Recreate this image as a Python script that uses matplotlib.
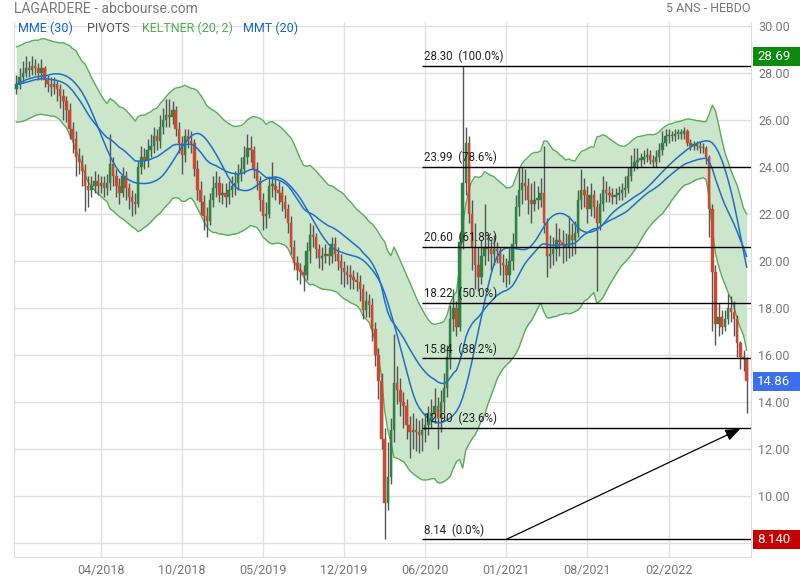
import matplotlib
matplotlib.use('Agg')
import matplotlib.pyplot as plt
import matplotlib.transforms as mtransforms
from matplotlib.patches import Rectangle
import numpy as np
import pandas as pd

plt.rcParams['font.family'] = ['Roboto', 'DejaVu Sans']

# weekly candles (5 years, weekly)
closes = [
    27.5, 27.8, 28.0, 28.2, 28.1, 28.3, 28.2, 28.0, 28.2, 27.7,
    27.5, 27.4, 27.5, 27.3, 27.0, 26.8, 26.4, 25.6, 25.2, 24.4,
    24.2, 23.8, 23.2, 23.0, 23.2, 23.4, 23.2, 23.3, 23.1, 23.3,
    24.1, 23.6, 23.2, 22.9, 23.6, 23.1, 22.7, 22.5, 22.4, 24.0,
    24.4, 24.3, 24.7, 24.9, 25.3, 25.1, 25.7, 26.0, 26.2, 26.1,
    26.4, 25.6, 25.0, 24.5, 25.3, 25.1, 25.0, 23.9, 23.0, 22.5,
    21.9, 21.7, 22.6, 23.1, 23.3, 22.8, 22.9, 22.7, 23.0, 23.2,
    23.3, 23.7, 23.9, 24.4, 24.8, 24.7, 23.9, 23.4, 22.6, 21.9,
    22.0, 23.2, 23.2, 23.0, 22.9, 22.5, 22.2, 21.6, 20.6, 19.9,
    19.6, 19.5, 19.4, 20.4, 21.1, 21.0, 20.5, 20.1, 20.2, 20.3,
    20.2, 20.7, 20.3, 20.0, 19.7, 19.5, 19.4, 19.3, 19.2, 19.1,
    18.8, 17.9, 18.3, 18.1, 17.1, 16.0, 14.9, 12.4, 9.7, 10.8,
    12.8, 14.8, 14.5, 14.0, 13.8, 13.0, 12.7, 12.8, 12.7, 12.6,
    12.8, 13.0, 13.2, 13.5, 13.8, 13.3, 14.0, 14.6, 15.9, 17.5,
    18.0, 17.2, 20.8, 23.3, 25.0, 22.0, 20.6, 19.8, 19.3, 20.2,
    20.6, 20.5, 20.3, 20.5, 20.4, 19.9, 19.8, 19.4, 20.0, 20.7,
    22.3, 23.0, 23.3, 23.2, 22.6, 22.4, 22.6, 22.6, 22.9, 21.6,
    20.2, 20.3, 20.5, 20.9, 20.8, 20.7, 20.6, 21.1, 20.9, 21.2,
    22.6, 23.0, 22.8, 22.2, 22.8, 22.3, 21.6, 22.4, 23.0, 22.9,
    22.8, 22.7, 22.8, 22.9, 23.0, 23.1, 23.6, 24.0, 24.2, 24.3,
    24.3, 24.4, 24.5, 24.3, 24.2, 24.4, 24.7, 25.0, 25.3, 25.3,
    25.3, 25.4, 25.4, 25.4, 25.5, 25.0, 24.9, 24.9, 24.9, 24.8,
    24.8, 24.4, 22.2, 19.5, 17.3, 17.6, 17.2, 17.5, 18.0, 17.8,
    17.5, 16.5, 15.9, 15.8, 14.86,
]
opens = [
    27.3, 27.5, 27.8, 28.0, 28.2, 28.1, 28.3, 28.2, 28.0, 28.2,
    27.7, 27.5, 27.4, 27.5, 27.3, 27.0, 26.8, 26.4, 25.6, 25.2,
    24.4, 24.2, 23.8, 23.2, 23.0, 23.2, 23.4, 23.2, 23.3, 23.1,
    23.3, 24.1, 23.6, 23.2, 22.9, 23.6, 23.1, 22.7, 22.5, 22.4,
    24.0, 24.4, 24.3, 24.7, 24.9, 25.3, 25.1, 25.7, 26.0, 26.2,
    26.1, 26.4, 25.6, 25.0, 24.5, 25.3, 25.1, 25.0, 23.9, 23.0,
    22.5, 21.9, 21.7, 22.6, 23.1, 23.3, 22.8, 22.9, 22.7, 23.0,
    23.2, 23.3, 23.7, 23.9, 24.4, 24.8, 24.7, 23.9, 23.4, 22.6,
    21.9, 22.0, 23.2, 23.2, 23.0, 22.9, 22.5, 22.2, 21.6, 20.6,
    19.9, 19.6, 19.5, 19.4, 20.4, 21.1, 21.0, 20.5, 20.1, 20.2,
    20.3, 20.2, 20.7, 20.3, 20.0, 19.7, 19.5, 19.4, 19.3, 19.2,
    19.1, 18.8, 17.9, 18.3, 18.1, 17.1, 16.0, 14.9, 12.4, 9.7,
    10.8, 12.8, 14.8, 14.5, 14.0, 13.8, 13.0, 12.7, 12.8, 12.7,
    12.6, 12.8, 13.0, 13.2, 13.5, 13.8, 13.3, 14.0, 14.6, 15.9,
    17.5, 18.0, 17.2, 20.8, 23.3, 25.0, 22.0, 20.6, 19.8, 19.3,
    20.2, 20.6, 20.5, 20.3, 20.5, 20.4, 19.9, 19.8, 19.4, 20.0,
    20.7, 22.3, 23.0, 23.3, 23.2, 22.6, 22.4, 22.6, 22.6, 22.9,
    21.6, 20.2, 20.3, 20.5, 20.9, 20.8, 20.7, 20.6, 21.1, 20.9,
    21.2, 22.6, 23.0, 22.8, 22.2, 22.8, 22.3, 21.6, 22.4, 23.0,
    22.9, 22.8, 22.7, 22.8, 22.9, 23.0, 23.1, 23.6, 24.0, 24.2,
    24.3, 24.3, 24.4, 24.5, 24.3, 24.2, 24.4, 24.7, 25.0, 25.3,
    25.3, 25.3, 25.4, 25.4, 25.4, 25.5, 25.0, 24.9, 24.9, 24.9,
    24.8, 24.8, 24.4, 22.2, 19.5, 17.3, 17.6, 17.2, 17.5, 18.0,
    17.8, 17.5, 16.5, 15.9, 15.8,
]
highs = [
    27.9, 28.2, 28.5, 28.7, 28.5, 28.7, 28.6, 28.4, 28.6, 28.3,
    27.9, 27.8, 27.8, 27.7, 27.5, 27.3, 27.0, 26.7, 25.9, 25.5,
    24.8, 24.5, 24.1, 23.6, 23.6, 23.8, 23.7, 23.6, 23.6, 23.7,
    25.4, 24.4, 23.9, 23.5, 24.0, 23.8, 23.3, 23.0, 22.9, 24.3,
    24.9, 24.8, 25.2, 25.4, 25.7, 25.6, 26.2, 26.5, 26.9, 26.9,
    26.8, 26.6, 25.9, 25.3, 25.6, 25.6, 25.5, 25.2, 24.3, 23.4,
    22.8, 22.3, 22.9, 23.6, 23.8, 23.6, 23.3, 23.3, 23.4, 23.6,
    23.8, 24.1, 24.4, 24.9, 25.4, 25.3, 24.9, 24.2, 23.6, 22.9,
    22.5, 23.6, 24.2, 23.6, 23.4, 23.2, 22.8, 22.4, 21.9, 20.9,
    20.2, 19.9, 19.8, 20.8, 21.6, 21.5, 21.2, 20.7, 20.6, 20.7,
    20.6, 21.0, 21.0, 20.6, 20.3, 20.0, 19.8, 19.8, 19.6, 19.5,
    19.4, 19.0, 18.7, 18.6, 18.4, 17.4, 16.3, 15.2, 12.9, 12.3,
    13.3, 16.9, 15.5, 15.0, 14.4, 14.1, 13.4, 13.5, 13.3, 13.2,
    13.3, 13.5, 13.8, 14.1, 14.6, 14.2, 14.5, 15.2, 16.4, 18.1,
    18.8, 18.3, 21.2, 28.3, 25.7, 25.3, 22.6, 21.6, 20.6, 20.9,
    22.4, 21.2, 20.9, 21.1, 20.8, 20.6, 20.3, 20.1, 20.6, 21.2,
    22.8, 24.0, 24.0, 23.9, 23.5, 23.3, 23.4, 23.2, 23.5, 24.9,
    21.8, 21.1, 21.0, 21.6, 21.4, 21.3, 21.2, 21.9, 21.6, 21.7,
    23.0, 23.9, 23.5, 23.2, 23.3, 23.0, 22.6, 22.9, 23.6, 23.4,
    23.2, 23.1, 23.1, 23.2, 23.3, 23.6, 24.0, 24.5, 24.8, 24.8,
    24.6, 24.7, 24.8, 24.7, 24.5, 24.7, 25.0, 25.5, 25.6, 25.6,
    25.5, 25.6, 25.6, 25.6, 25.7, 25.6, 25.2, 25.1, 25.1, 25.1,
    25.0, 24.9, 24.5, 22.4, 19.8, 18.2, 17.9, 17.9, 18.6, 18.5,
    18.3, 17.7, 16.6, 16.2, 15.9,
]
lows = [
    27.1, 27.3, 27.6, 27.8, 27.8, 27.9, 27.9, 27.7, 27.7, 27.4,
    27.2, 27.0, 27.1, 26.8, 26.5, 26.0, 25.9, 25.2, 24.6, 23.6,
    23.7, 23.2, 22.1, 22.3, 22.7, 22.9, 22.8, 22.9, 22.7, 22.8,
    23.0, 23.2, 22.7, 22.4, 22.7, 22.6, 22.2, 21.9, 22.0, 22.3,
    23.7, 23.9, 24.0, 24.4, 24.6, 24.7, 24.8, 25.4, 25.7, 25.7,
    25.8, 25.3, 24.6, 23.7, 24.2, 24.8, 24.6, 23.6, 22.6, 22.0,
    21.3, 21.0, 21.5, 22.3, 22.7, 22.5, 22.4, 22.3, 22.4, 22.7,
    22.8, 23.0, 23.4, 23.7, 24.1, 24.2, 23.5, 23.0, 22.1, 21.3,
    21.4, 21.8, 22.7, 22.6, 22.4, 22.1, 21.8, 21.2, 20.3, 19.6,
    19.2, 19.0, 18.7, 19.2, 19.9, 20.6, 20.1, 19.7, 19.6, 19.9,
    19.8, 19.9, 20.0, 19.6, 19.0, 18.9, 19.0, 18.8, 18.8, 18.7,
    18.3, 17.5, 17.6, 17.6, 16.6, 15.5, 14.1, 12.0, 8.14, 9.4,
    10.5, 12.3, 13.9, 13.4, 12.9, 12.4, 11.6, 12.0, 11.9, 11.8,
    11.9, 12.3, 12.6, 12.9, 13.1, 12.0, 12.7, 13.5, 14.2, 15.4,
    17.0, 16.8, 17.0, 20.5, 22.8, 21.6, 19.6, 18.8, 18.7, 19.0,
    19.8, 20.0, 19.6, 19.8, 19.9, 19.4, 19.1, 18.9, 19.0, 19.6,
    20.5, 21.9, 22.4, 22.6, 22.0, 21.6, 22.1, 22.2, 22.3, 21.2,
    19.3, 19.7, 19.8, 20.0, 20.2, 19.9, 20.0, 20.1, 20.2, 20.3,
    21.0, 22.2, 22.3, 21.6, 21.9, 21.8, 18.7, 21.3, 22.1, 22.5,
    22.5, 22.4, 22.4, 22.6, 22.6, 22.7, 22.9, 23.4, 23.8, 23.9,
    24.0, 24.1, 24.2, 24.1, 24.0, 24.0, 24.2, 24.5, 24.9, 25.0,
    25.1, 25.1, 25.2, 25.2, 25.2, 24.9, 24.7, 24.7, 24.7, 24.6,
    24.6, 24.1, 21.0, 17.0, 16.4, 16.8, 16.9, 17.0, 17.3, 17.4,
    16.8, 15.9, 15.4, 15.3, 13.5,
]

# x axis: one gridline every 26 weeks
date_ticks = [27, 53, 79, 105, 131, 157, 183, 209]
date_labels = ['04/2018', '10/2018', '05/2019', '12/2019',
               '06/2020', '01/2021', '08/2021', '02/2022']

fib_pcts = [0.0, 23.6, 38.2, 50.0, 61.8, 78.6, 100.0]
fib_start = 130
arrow_from = (157, 8.14)
arrow_to = (232, 12.85)

# price tags on the right axis
tag_values = [28.69, 14.86, 8.14]
tag_texts = ['28.69', '14.86', '8.140']
tag_colors = ['#0b8a0b', '#3b6ff0', '#c40000']

# ---- indicators ----
c = pd.Series(closes)
h = pd.Series(highs)
l = pd.Series(lows)
mme30 = c.ewm(span=30, adjust=False).mean()
mmt20 = c.rolling(10, min_periods=1).mean().rolling(11, min_periods=1).mean()
prev_c = c.shift(1).fillna(c.iloc[0])
tr = pd.concat([h - l, (h - prev_c).abs(), (l - prev_c).abs()], axis=1).max(axis=1)
atr = tr.ewm(span=20, adjust=False).mean()
kmid = c.ewm(span=20, adjust=False).mean()
kup = kmid + 2 * atr
kdn = kmid - 2 * atr

x = np.arange(len(closes))
o = np.array(opens)
cl = np.array(closes)

fig = plt.figure(figsize=(8, 5.8), dpi=100)
ax = fig.add_axes([14 / 800, 23 / 580, 737 / 800, 535 / 580])

# Keltner band
ax.fill_between(x, kdn, kup, color='#cbe6cb', zorder=1, lw=0)
ax.plot(x, kup, color='#5aac5a', lw=1, zorder=1.5)
ax.plot(x, kdn, color='#5aac5a', lw=1, zorder=1.5)

# candles
up = cl >= o
body_col = np.where(up, '#2b8443', '#d0472e')
ax.vlines(x, lows, highs, color='#555555', lw=1, zorder=2)
ax.bar(x, np.maximum(np.abs(cl - o), 0.06), bottom=np.minimum(o, cl), width=0.78,
       color=body_col, edgecolor=body_col, lw=0.3, zorder=3)

# moving averages
ax.plot(x, mme30, color='#1f6fc8', lw=1.1, zorder=4)
ax.plot(x, mmt20, color='#1f6fc8', lw=1.1, zorder=4)

# fibonacci retracement between the 2020 low and the following high
low_idx = int(np.argmin(lows))
fib_low = lows[low_idx]
fib_high = max(highs[low_idx:])
xmax = len(closes) + 0.4
for p in fib_pcts:
    lvl = fib_low + (fib_high - fib_low) * p / 100
    ax.hlines(lvl, fib_start, xmax, color='black', lw=1, zorder=5)
    ax.text(fib_start + 0.6, lvl + 0.12, '%.2f  (%.1f%%)' % (lvl, p), fontsize=8.3,
            color='#222222', ha='left', va='bottom', zorder=6)

ax.annotate('', xy=arrow_to, xytext=arrow_from, zorder=6,
            arrowprops=dict(arrowstyle='-|>,head_length=0.9,head_width=0.35',
                            color='black', lw=0.9, shrinkA=0, shrinkB=0))

# axes styling
yt = np.arange(8, 31, 2)
ax.set_xlim(-0.8, xmax)
ax.set_ylim(7.39, 30.16)
ax.set_xticks(date_ticks)
ax.set_xticklabels(date_labels)
ax.set_yticks(yt)
ax.set_yticklabels(['' if v < 10 else '%.2f' % v for v in yt])
ax.yaxis.tick_right()
ax.tick_params(axis='both', length=0, labelsize=9, colors='#777777')
ax.tick_params(axis='y', pad=5)
ax.tick_params(axis='x', pad=5)
ax.grid(True, color='#e0e0e0', lw=1)
ax.set_axisbelow(True)
for s in ['left', 'right', 'bottom']:
    ax.spines[s].set_color('#dcdcdc')
ax.spines['top'].set_visible(False)

# price tags
tag_tr = mtransforms.blended_transform_factory(fig.transFigure, ax.transData)
for v, t, col in zip(tag_values, tag_texts, tag_colors):
    ax.add_patch(Rectangle((753 / 800, v - 0.39), 47 / 800, 0.78, transform=tag_tr,
                           fc=col, ec='none', zorder=10, clip_on=False))
    ax.text(757 / 800, v, t, transform=tag_tr, fontsize=9.5, color='white',
            ha='left', va='center', zorder=11, clip_on=False)

# header
fig.text(14 / 800, 1 - 9 / 580, 'LAGARDERE - abcbourse.com', fontsize=10, color='#777777',
         ha='left', va='center')
fig.text(750 / 800, 1 - 9 / 580, '5 ANS - HEBDO', fontsize=9, color='#777777',
         ha='right', va='center')

legend_items = [('MME (30)', '#1565c0', 18), ('PIVOTS', '#555555', 87),
                ('KELTNER (20, 2)', '#4caf50', 142), ('MMT (20)', '#1565c0', 243)]
for txt, col, px in legend_items:
    fig.text(px / 800, 1 - 28 / 580, txt, fontsize=9, color=col, ha='left', va='center')

plt.savefig('out.png', dpi=100)
